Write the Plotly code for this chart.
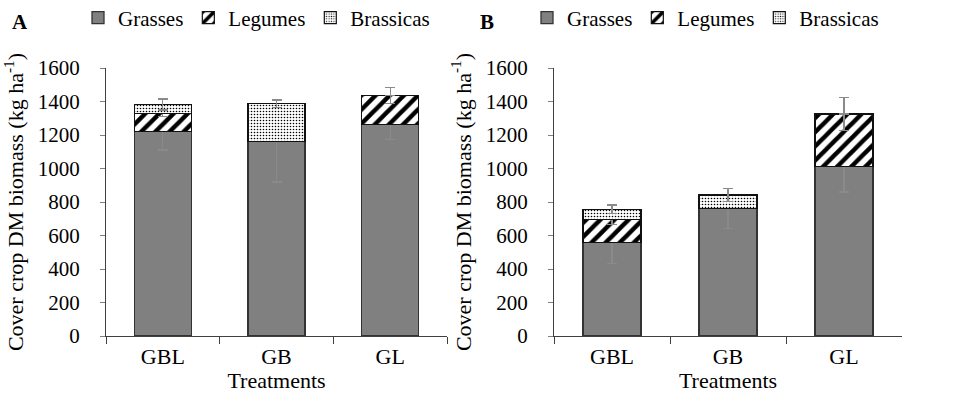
import plotly.graph_objects as go

treatments = ["GBL", "GB", "GL"]

# Panel A
a_grasses = [1220, 1162, 1264]
a_legumes = [110, 0, 172]
a_brassicas = [52, 225, 0]
a_grasses_err = [110, 242, 90]
a_legumes_err = [20, 0, 48]
a_brassicas_err = [33, 22, 0]

# Panel B
b_grasses = [559, 762, 1013]
b_legumes = [138, 0, 312]
b_brassicas = [59, 80, 0]
b_grasses_err = [125, 119, 153]
b_legumes_err = [30, 0, 100]
b_brassicas_err = [26, 40, 0]

y_ticks = [0, 200, 400, 600, 800, 1000, 1200, 1400, 1600]

FONT = "Liberation Serif, Times New Roman, serif"
ERR_COLOR = "#8a8a8a"

fig = go.Figure()

def add_panel(xa, ya, legend, g, l, b, ge, le, be):
    def err(vals):
        return dict(type="data", array=vals, visible=True, color=ERR_COLOR,
                    thickness=1.3, width=5)
    fig.add_trace(go.Bar(
        x=treatments, y=g, name="Grasses", xaxis=xa, yaxis=ya, legend=legend,
        marker=dict(color="#808080", line=dict(color="#333333", width=1.3)),
        error_y=err(ge)))
    fig.add_trace(go.Bar(
        x=treatments, y=l, name="Legumes", xaxis=xa, yaxis=ya, legend=legend,
        marker=dict(color="white", line=dict(color="#111111", width=1.2),
                    pattern=dict(shape="/", fgcolor="black", bgcolor="white",
                                 fgopacity=1, size=10, solidity=0.45)),
        error_y=err(le)))
    fig.add_trace(go.Bar(
        x=treatments, y=b, name="Brassicas", xaxis=xa, yaxis=ya, legend=legend,
        marker=dict(color="white", line=dict(color="#111111", width=1.2),
                    pattern=dict(shape=".", fgcolor="black", bgcolor="white",
                                 fgopacity=1, size=3, solidity=0.22)),
        error_y=err(be)))

add_panel("x", "y", "legend", a_grasses, a_legumes, a_brassicas,
          a_grasses_err, a_legumes_err, a_brassicas_err)
add_panel("x2", "y2", "legend2", b_grasses, b_legumes, b_brassicas,
          b_grasses_err, b_legumes_err, b_brassicas_err)

W, H = 974, 399
y_dom = [(H - 336) / H, (H - 68) / H]

xcommon = dict(type="category", showline=True, linecolor="#404040", linewidth=1.2,
               ticks="outside", ticklen=7, tickcolor="#404040", tickson="boundaries",
               tickfont=dict(family=FONT, size=22, color="black"),
               title=dict(text="Treatments", standoff=0,
                          font=dict(family=FONT, size=22, color="black")),
               showgrid=False, zeroline=False, fixedrange=True)
ycommon = dict(range=[0, 1600], tickvals=y_ticks, showline=True, linecolor="#404040",
               linewidth=1.2, ticks="outside", ticklen=5, tickcolor="#808080",
               ticklabelstandoff=16,
               tickfont=dict(family=FONT, size=21, color="black"),
               title=dict(text="Cover crop DM biomass (kg ha<sup>-1</sup>)", standoff=8,
                          font=dict(family=FONT, size=22, color="black")),
               showgrid=False, zeroline=False, fixedrange=True)

legend_common = dict(orientation="h", yanchor="middle", y=1 - 18 / H,
                     xanchor="left", traceorder="normal",
                     font=dict(family=FONT, size=21, color="black"),
                     itemwidth=30, tracegroupgap=0, bgcolor="rgba(0,0,0,0)")

fig.update_layout(
    width=W, height=H,
    margin=dict(l=0, r=0, t=0, b=0, autoexpand=False),
    paper_bgcolor="white", plot_bgcolor="white",
    barmode="stack", bargap=0.5,
    font=dict(family=FONT, color="black"),
    xaxis=dict(xcommon, domain=[106 / W, 447 / W], anchor="y"),
    yaxis=dict(ycommon, domain=y_dom, anchor="x"),
    xaxis2=dict(xcommon, domain=[554 / W, 902 / W], anchor="y2"),
    yaxis2=dict(ycommon, domain=y_dom, anchor="x2"),
    legend=dict(legend_common, x=78 / W),
    legend2=dict(legend_common, x=527 / W),
    annotations=[
        dict(text="<b>A</b>", x=10 / W, y=1 - 22 / H, xref="paper", yref="paper",
             xanchor="left", yanchor="middle", showarrow=False,
             font=dict(family=FONT, size=21, color="black")),
        dict(text="<b>B</b>", x=478 / W, y=1 - 22 / H, xref="paper", yref="paper",
             xanchor="left", yanchor="middle", showarrow=False,
             font=dict(family=FONT, size=21, color="black")),
    ],
)

fig.write_html("out.html",
               config={"displayModeBar": False},
               post_script="document.body.style.margin='0px';"
                           "document.body.style.overflow='hidden';")
